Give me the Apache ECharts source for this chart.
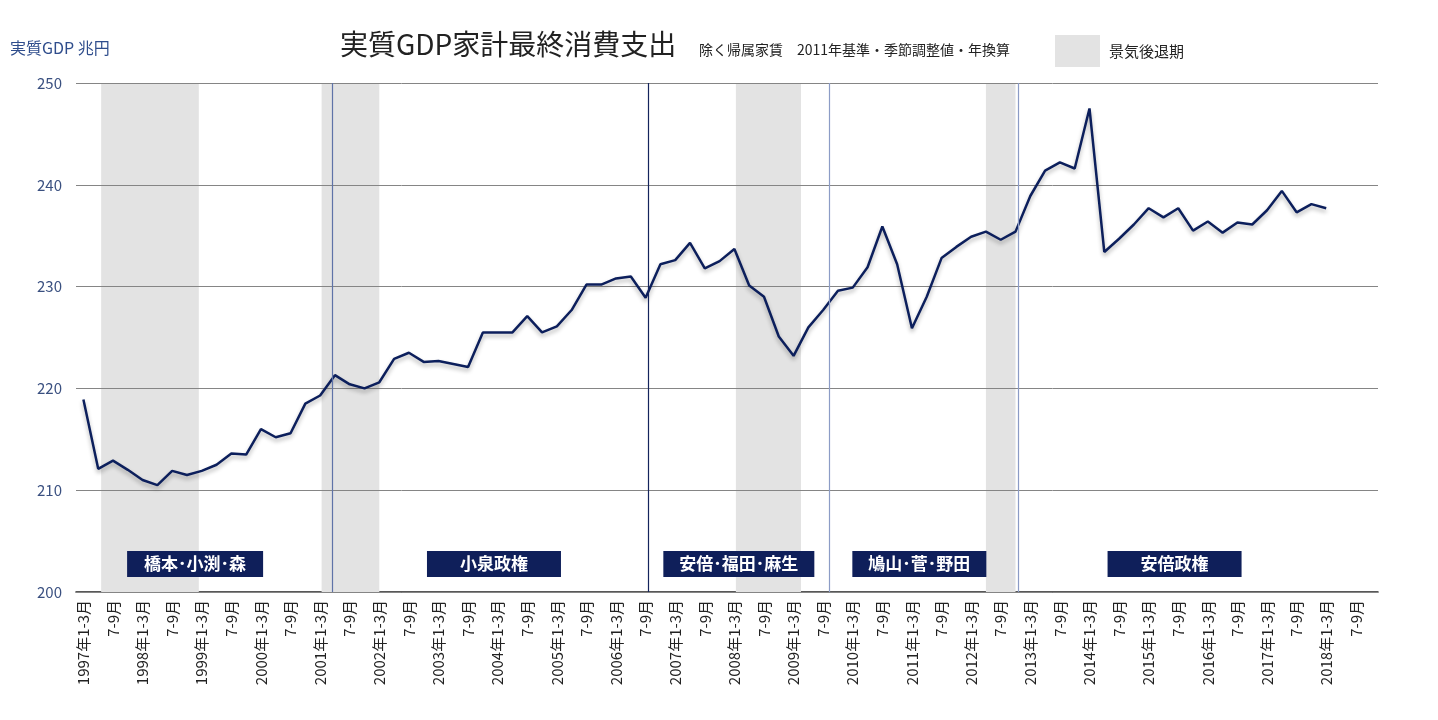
<!DOCTYPE html>
<html>
<head>
<meta charset="utf-8">
<title>実質GDP家計最終消費支出</title>
<script src="https://cdn.jsdelivr.net/npm/echarts@6/dist/echarts.min.js"></script>
<style>
html, body { margin: 0; padding: 0; background: #fff; }
#chart { width: 1438px; height: 720px; }
</style>
</head>
<body>
<div id="chart"></div>
<script>
// 四半期 1997年1-3月 〜 2018年10-12月
const years = [1997, 1998, 1999, 2000, 2001, 2002, 2003, 2004, 2005, 2006, 2007,
  2008, 2009, 2010, 2011, 2012, 2013, 2014, 2015, 2016, 2017, 2018];
const quarterNames = ["1-3月", "4-6月", "7-9月", "10-12月"];
const categories = [];
years.forEach(y => quarterNames.forEach((q, i) => categories.push(i === 0 ? y + "年" + q : q)));

// 実質GDP 家計最終消費支出（兆円）
const consumption = [
  218.9, 212.1, 212.9, 212.0, 211.0, 210.5, 211.9, 211.5, 211.9, 212.5,
  213.6, 213.5, 216.0, 215.2, 215.6, 218.5, 219.3, 221.3, 220.4, 220.0,
  220.6, 222.9, 223.5, 222.6, 222.7, 222.4, 222.1, 225.5, 225.5, 225.5,
  227.1, 225.5, 226.1, 227.7, 230.2, 230.2, 230.8, 231.0, 228.9, 232.2,
  232.6, 234.3, 231.8, 232.5, 233.7, 230.1, 229.0, 225.1, 223.2, 226.0,
  227.7, 229.6, 229.9, 231.9, 235.9, 232.2, 225.9, 229.0, 232.8, 233.9,
  234.9, 235.4, 234.6, 235.4, 238.9, 241.4, 242.2, 241.6, 247.5, 233.4,
  234.7, 236.1, 237.7, 236.8, 237.7, 235.5, 236.4, 235.3, 236.3, 236.1,
  237.5, 239.4, 237.3, 238.1, 237.7
];

// 景気後退期（四半期インデックス、開始・終了）
const recessions = [[1.2, 7.8], [16.1, 20.0], [44.1, 48.5], [61.0, 63.0]];

// 政権交代（四半期インデックス）
const cabinetChanges = [16.8, 38.2, 50.4, 63.2];
const cabinetLineColors = ["#5f73a8", "#14245c", "#8c9cc6", "#8c9cc6"];

// 政権ラベル
const cabinetNames = ["橋本･小渕･森", "小泉政権", "安倍･福田･麻生", "鳩山･菅･野田", "安倍政権"];
const cabinetCenters = [7.55, 27.75, 44.3, 56.5, 73.75];
const cabinetBoxWidths = [136, 134, 151, 134, 134];
const labelLevel = 202.75;

const chart = echarts.init(document.getElementById("chart"));

const option = {
  animation: false,
  textStyle: { fontFamily: "'Noto Sans CJK JP', 'Noto Sans', sans-serif" },
  title: [
    {
      text: "実質GDP家計最終消費支出",
      left: 335, top: 25,
      textStyle: { fontSize: 28, fontWeight: "normal", color: "#222" }
    },
    {
      text: "除く帰属家賃　2011年基準・季節調整値・年換算",
      left: 694, top: 38,
      textStyle: { fontSize: 14, fontWeight: "normal", color: "#222" }
    },
    {
      text: "実質GDP 兆円",
      left: 5, top: 35,
      textStyle: { fontSize: 16, fontWeight: "normal", color: "#2f4d8c" }
    }
  ],
  legend: {
    data: ["景気後退期"],
    left: 1050, top: 30,
    icon: "rect",
    itemWidth: 45, itemHeight: 32, itemGap: 10,
    textStyle: { fontSize: 15, color: "#222", padding: [8, 0, 0, 4] }
  },
  grid: { left: 76, right: 60, top: 83, bottom: 128 },
  xAxis: [
    {
      type: "category",
      data: categories,
      boundaryGap: true,
      axisLine: { lineStyle: { color: "#222", width: 1.5 } },
      axisTick: { show: false },
      axisLabel: { interval: 1, rotate: 90, fontSize: 15, color: "#222", margin: 8 },
      splitLine: { show: false }
    },
    {
      type: "value",
      min: -0.5, max: categories.length - 0.5,
      show: false
    }
  ],
  yAxis: {
    type: "value",
    min: 200, max: 250, interval: 10,
    z: 2,
    axisLine: { show: false },
    axisTick: { show: false },
    axisLabel: { fontSize: 15, color: "#3a5080", margin: 14 },
    splitLine: { lineStyle: { color: "#858585", width: 1 } }
  },
  series: [
    {
      name: "景気後退期",
      type: "line",
      xAxisIndex: 1,
      data: [],
      z: 1,
      itemStyle: { color: "#e3e3e3" },
      lineStyle: { color: "#e3e3e3" },
      markArea: {
        silent: true,
        itemStyle: { color: "#e3e3e3" },
        data: recessions.map(r => [{ xAxis: r[0] }, { xAxis: r[1] }])
      },
      markLine: {
        silent: true,
        symbol: "none",
        label: { show: false },
        data: cabinetChanges.map((x, i) => ({ xAxis: x, lineStyle: { color: cabinetLineColors[i], width: 1.2, type: "solid" } }))
      },
      markPoint: {
        silent: true,
        symbol: "rect",
        itemStyle: { color: "#0f1f5a" },
        label: {
          show: true, position: "inside", color: "#fff",
          fontSize: 17, fontWeight: "bold", formatter: "{b}"
        },
        data: cabinetNames.map((n, i) => ({
          name: n, coord: [cabinetCenters[i], labelLevel], symbolSize: [cabinetBoxWidths[i], 26]
        }))
      }
    },
    {
      name: "家計最終消費支出",
      type: "line",
      data: consumption,
      z: 3,
      symbol: "none",
      lineStyle: {
        color: "#0c1f5c", width: 2.5,
        shadowColor: "rgba(0,0,0,0.3)", shadowBlur: 4, shadowOffsetY: 3
      }
    }
  ]
};

chart.setOption(option);
</script>
</body>
</html>
